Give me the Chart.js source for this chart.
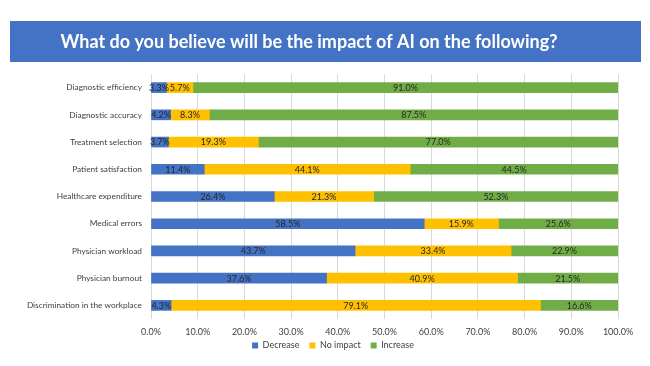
<!DOCTYPE html>
<html>
<head>
<meta charset="utf-8">
<script src="https://cdn.jsdelivr.net/npm/chart.js@4.4.1/dist/chart.umd.min.js"></script>
<style>
  html, body { margin: 0; padding: 0; background: #fff; }
  #chart { display: block; }
</style>
</head>
<body>
<canvas id="chart" width="650" height="366"></canvas>
<script>
const titleText = "What do you believe will be the impact of AI on the following?";

const categories = [
  "Diagnostic efficiency",
  "Diagnostic accuracy",
  "Treatment selection",
  "Patient satisfaction",
  "Healthcare expenditure",
  "Medical errors",
  "Physician workload",
  "Physician burnout",
  "Discrimination in the workplace"
];

const decrease = [3.3, 4.2, 3.7, 11.4, 26.4, 58.5, 43.7, 37.6, 4.3];
const noImpact = [5.7, 8.3, 19.3, 44.1, 21.3, 15.9, 33.4, 40.9, 79.1];
const increase = [91.0, 87.5, 77.0, 44.5, 52.3, 25.6, 22.9, 21.5, 16.6];

const seriesNames = ["Decrease", "No impact", "Increase"];
const xTicks = [0, 10, 20, 30, 40, 50, 60, 70, 80, 90, 100];

const fontFamily = "Lato, 'Open Sans', sans-serif";

// blue banner with the title on top
const bannerPlugin = {
  id: "banner",
  beforeDraw(chart) {
    const ctx = chart.ctx;
    ctx.save();
    ctx.fillStyle = "#4472C4";
    ctx.fillRect(10, 21, 631, 41);
    ctx.fillStyle = "#ffffff";
    ctx.font = "bold 18px " + fontFamily;
    ctx.textAlign = "center";
    ctx.textBaseline = "middle";
    ctx.fillText(titleText, 309, 42);
    ctx.restore();
  }
};

// legend sits under the middle of the plot and a bit tighter to the axis
const legendShift = {
  id: "legendShift",
  afterLayout(chart) {
    const lg = chart.legend;
    lg.left += 24;
    lg.right += 24;
    lg.top -= 10;
    lg.bottom -= 10;
  }
};

// value labels in the middle of each segment
const segmentLabels = {
  id: "segmentLabels",
  afterDatasetsDraw(chart) {
    const ctx = chart.ctx;
    ctx.save();
    ctx.font = "9px " + fontFamily;
    ctx.fillStyle = "#262626";
    ctx.textAlign = "center";
    ctx.textBaseline = "middle";
    chart.data.datasets.forEach((ds, i) => {
      const meta = chart.getDatasetMeta(i);
      meta.data.forEach((bar, j) => {
        const c = bar.getCenterPoint();
        ctx.fillText(ds.data[j].toFixed(1) + "%", c.x, c.y + 0.5);
      });
    });
    ctx.restore();
  }
};

const ctx = document.getElementById("chart").getContext("2d");
new Chart(ctx, {
  type: "bar",
  data: {
    labels: categories,
    datasets: [
      { label: seriesNames[0], data: decrease, backgroundColor: "#4472C4" },
      { label: seriesNames[1], data: noImpact, backgroundColor: "#FFC000" },
      { label: seriesNames[2], data: increase, backgroundColor: "#70AD47" }
    ]
  },
  options: {
    indexAxis: "y",
    responsive: false,
    devicePixelRatio: 1,
    animation: false,
    layout: {
      padding: { top: 74, right: 32, bottom: -4, left: 0 }
    },
    datasets: {
      bar: { barThickness: 10 }
    },
    plugins: {
      legend: {
        position: "bottom",
        labels: {
          boxWidth: 6,
          boxHeight: 6,
          padding: 10,
          color: "#404040",
          font: { family: fontFamily, size: 9 }
        }
      },
      tooltip: { enabled: false }
    },
    scales: {
      x: {
        stacked: true,
        min: 0,
        max: 100,
        afterBuildTicks: (scale) => {
          scale.ticks = xTicks.map((v) => ({ value: v }));
        },
        afterFit: (scale) => { scale.height = 22; },
        grid: { color: "#d9d9d9", drawTicks: false },
        border: { display: false },
        ticks: {
          padding: 8,
          color: "#404040",
          font: { family: fontFamily, size: 9 },
          callback: (v) => v.toFixed(1) + "%"
        }
      },
      y: {
        stacked: true,
        afterFit: (scale) => { scale.width = 151; },
        grid: { display: false, drawTicks: false },
        border: { display: false },
        ticks: {
          padding: 9,
          color: "#404040",
          font: { family: fontFamily, size: 8.3 }
        }
      }
    }
  },
  plugins: [bannerPlugin, legendShift, segmentLabels]
});
</script>
</body>
</html>
